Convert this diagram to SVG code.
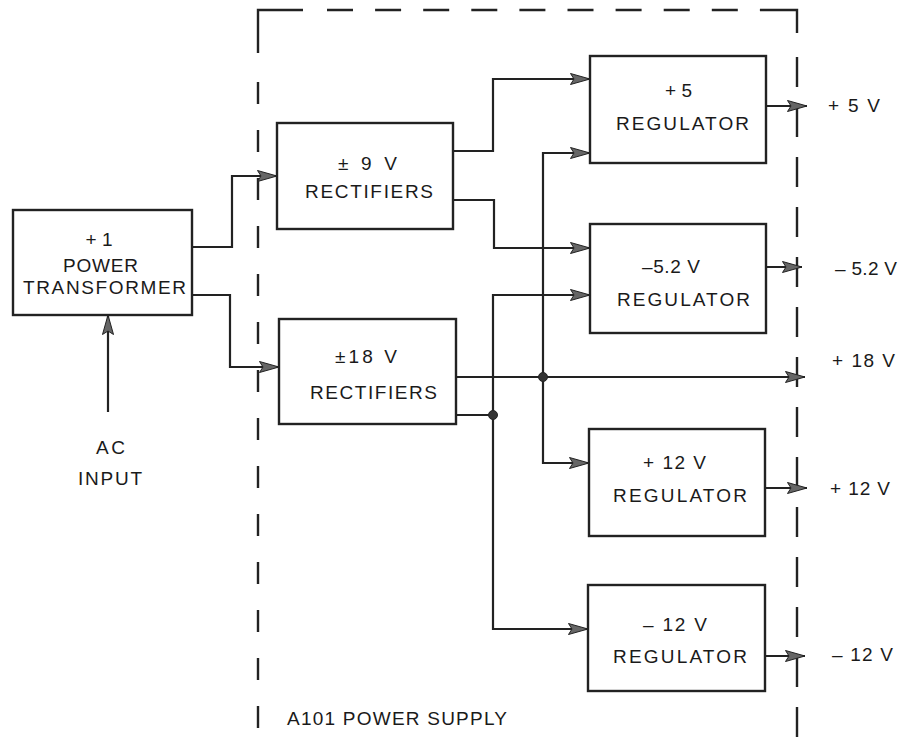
<svg xmlns="http://www.w3.org/2000/svg" width="905" height="747" viewBox="0 0 905 747">
<style>
.box{fill:#fff;stroke:#222;stroke-width:2.4}
.wire{fill:none;stroke:#222;stroke-width:2.2}
.wa{fill:none;stroke:#222;stroke-width:2.2;marker-end:url(#ah)}
.dash{fill:none;stroke:#222;stroke-width:2.4}
.dot{fill:#333;stroke:#222;stroke-width:1}
text{font-family:"Liberation Sans",Arial,Helvetica,sans-serif;font-size:19px;fill:#1a1a1a}
.c{text-anchor:middle}
</style>
<defs>
<marker id="ah" markerUnits="userSpaceOnUse" markerWidth="20" markerHeight="12" refX="20" refY="6" orient="auto" viewBox="0 0 20 12">
<polygon points="0.5,0.5 20,6 0.5,11.5 4,6" fill="#666" stroke="#222" stroke-width="1"/>
</marker>
</defs>
<rect width="905" height="747" fill="#fff"/>

<g id="boundary">
<path class="dash" d="M303,10 H258 V53"/>
<path class="dash" d="M258,78 V747" stroke-dasharray="22 26" stroke-dashoffset="-4"/>
<path class="dash" d="M327,10 H760" stroke-dasharray="26 22.1"/>
<path class="dash" d="M760,10 H797 V33"/>
<path class="dash" d="M797,57 V747" stroke-dasharray="30 20"/>
<text x="287" y="725" textLength="220" lengthAdjust="spacing">A101 POWER SUPPLY</text>
</g>

<g id="connectors">
<path class="wa" d="M192,247 H232 V176 H277"/>
<path class="wa" d="M192,295 H230 V367 H279"/>
<path class="wa" d="M108,412 V315"/>
<path class="wa" d="M453,151 H493 V79 H590"/>
<path class="wa" d="M453,200 H494 V248 H590"/>
<path class="wa" d="M456,377 H805"/>
<path class="wa" d="M543,377 V153 H590"/>
<path class="wa" d="M543,377 V463 H589"/>
<path class="wire" d="M456,415 H493"/>
<path class="wa" d="M493,415 V295 H590"/>
<path class="wa" d="M493,415 V629 H588"/>
<path class="wa" d="M766,106 H807"/>
<path class="wa" d="M766,267 H802"/>
<path class="wa" d="M765,488 H807"/>
<path class="wa" d="M765,656 H805"/>
<circle class="dot" cx="543" cy="377" r="4.5"/>
<circle class="dot" cx="493" cy="415" r="4.5"/>
</g>

<g id="transformer">
<rect class="box" x="13" y="210" width="179" height="105"/>
<text class="c" x="99" y="246">+ 1</text>
<text class="c" x="100.5" y="272" textLength="75" lengthAdjust="spacing">POWER</text>
<text class="c" x="104.5" y="294" textLength="163" lengthAdjust="spacing">TRANSFORMER</text>
</g>

<g id="ac-input">
<text class="c" x="110.5" y="454" textLength="29" lengthAdjust="spacing">AC</text>
<text class="c" x="110" y="485" textLength="64" lengthAdjust="spacing">INPUT</text>
</g>

<g id="rect9">
<rect class="box" x="277" y="123" width="176" height="106"/>
<text class="c" x="367.5" y="170" textLength="59" lengthAdjust="spacing">± 9 V</text>
<text class="c" x="369" y="198" textLength="128" lengthAdjust="spacing">RECTIFIERS</text>
</g>

<g id="rect18">
<rect class="box" x="279" y="319" width="177" height="105"/>
<text class="c" x="366" y="363" textLength="62" lengthAdjust="spacing">±18 V</text>
<text class="c" x="373.5" y="399" textLength="127" lengthAdjust="spacing">RECTIFIERS</text>
</g>

<g id="reg5">
<rect class="box" x="590" y="56" width="176" height="107"/>
<text class="c" x="678.5" y="97" textLength="27" lengthAdjust="spacing">+ 5</text>
<text class="c" x="682.5" y="130" textLength="133" lengthAdjust="spacing">REGULATOR</text>
</g>

<g id="reg52">
<rect class="box" x="590" y="224" width="176" height="109"/>
<text class="c" x="671" y="273" textLength="58" lengthAdjust="spacing">–5.2 V</text>
<text class="c" x="683.5" y="306" textLength="133" lengthAdjust="spacing">REGULATOR</text>
</g>

<g id="reg12p">
<rect class="box" x="589" y="429" width="176" height="107"/>
<text class="c" x="674.5" y="469" textLength="63" lengthAdjust="spacing">+ 12 V</text>
<text class="c" x="680" y="502" textLength="134" lengthAdjust="spacing">REGULATOR</text>
</g>

<g id="reg12n">
<rect class="box" x="588" y="585" width="177" height="106"/>
<text class="c" x="675" y="631" textLength="64" lengthAdjust="spacing">– 12 V</text>
<text class="c" x="680" y="663" textLength="134" lengthAdjust="spacing">REGULATOR</text>
</g>

<g id="outputs">
<text x="828" y="112" textLength="52" lengthAdjust="spacing">+ 5 V</text>
<text x="835" y="275" textLength="62" lengthAdjust="spacing">– 5.2 V</text>
<text x="832" y="367" textLength="63" lengthAdjust="spacing">+ 18 V</text>
<text x="830" y="495" textLength="60" lengthAdjust="spacing">+ 12 V</text>
<text x="832" y="661" textLength="61" lengthAdjust="spacing">– 12 V</text>
</g>
</svg>
